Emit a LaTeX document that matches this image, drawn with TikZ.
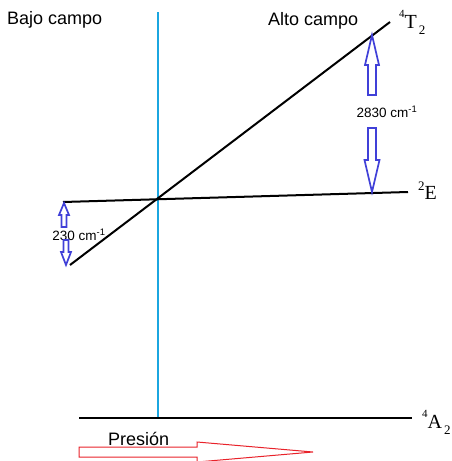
\documentclass[tikz,border=0pt]{standalone}
\usepackage{fontspec}
\newfontfamily\sansf{Liberation Sans}
\newfontfamily\seriff{Liberation Serif}
\definecolor{vline}{HTML}{1BA6E0}
\definecolor{arrowblue}{HTML}{4040D8}
\definecolor{presred}{HTML}{E8222A}
\begin{document}
\begin{tikzpicture}[x=1pt,y=-1pt,
  level/.style={line width=2pt, draw=black},
  barra/.style={line width=2.4pt, draw=vline},
  flecha/.style={draw=arrowblue, line width=1.7pt, fill=white, line join=miter},
  flecharoja/.style={draw=presred, line width=1pt},
  bigtxt/.style={font=\sansf\fontsize{18}{20}\selectfont, inner sep=0pt, anchor=base west},
  smalltxt/.style={font=\sansf\fontsize{13.5}{15}\selectfont, inner sep=0pt},
  termino/.style={font=\seriff\fontsize{20}{22}\selectfont, inner sep=0pt, anchor=base west}]
\useasboundingbox (0,0) rectangle (451,461);
\clip (0,0) rectangle (451,461);
% coordinates
\coordinate (t2a) at (70,265);
\coordinate (t2b) at (390,22);
\coordinate (ea) at (63,202);
\coordinate (eb) at (408,192);
\coordinate (aa) at (79,418);
\coordinate (ab) at (412,418);
\coordinate (vtop) at (158,12);
\coordinate (vbot) at (158,418);
% lines
\draw[barra] (vtop) -- (vbot);
\draw[level] (t2a) -- (t2b);
\draw[level] (ea) -- (eb);
\draw[level] (aa) -- (ab);
% labels
\node[bigtxt] (bajo) at (7,24) {Bajo campo};
\node[bigtxt] (alto) at (268,25) {Alto campo};
\node[bigtxt] (pres) at (108,445) {Presión};
\node[termino] (lT) at (399,28) {\raisebox{0.55em}{\fontsize{11}{11}\selectfont 4}T\hspace{2pt}\raisebox{-0.3em}{\fontsize{13}{13}\selectfont 2}};
\node[termino] (lE) at (418,199) {\raisebox{0.45em}{\fontsize{13}{13}\selectfont 2}E};
\node[termino] (lA) at (422,428) {\raisebox{0.55em}{\fontsize{11}{11}\selectfont 4}A\hspace{2pt}\raisebox{-0.3em}{\fontsize{13}{13}\selectfont 2}};
\node[smalltxt] (d1) at (387,112) {2830 cm\textsuperscript{-1}};
\node[smalltxt] (d2) at (79,235) {230 cm\textsuperscript{-1}};
% blue arrows
\draw[flecha] (368,95) -- (368,65) -- (365,65) -- (372,35) -- (379,65) -- (376,65) -- (376,95) -- cycle;
\draw[flecha] (368,128) -- (368,160) -- (364.5,160) -- (372,192) -- (379.5,160) -- (376,160) -- (376,128) -- cycle;
\draw[flecha] (61.5,227) -- (61.5,215) -- (59,215) -- (64,203) -- (69,215) -- (66.5,215) -- (66.5,227) -- cycle;
\draw[flecha] (63.5,240) -- (63.5,252) -- (61,252) -- (66,265) -- (71,252) -- (68.5,252) -- (68.5,240) -- cycle;
% red arrow
\draw[flecharoja] (79,447) -- (197,447) -- (197,442) -- (313,452) -- (197,462) -- (197,457) -- (79,457) -- cycle;
\end{tikzpicture}
\end{document}
